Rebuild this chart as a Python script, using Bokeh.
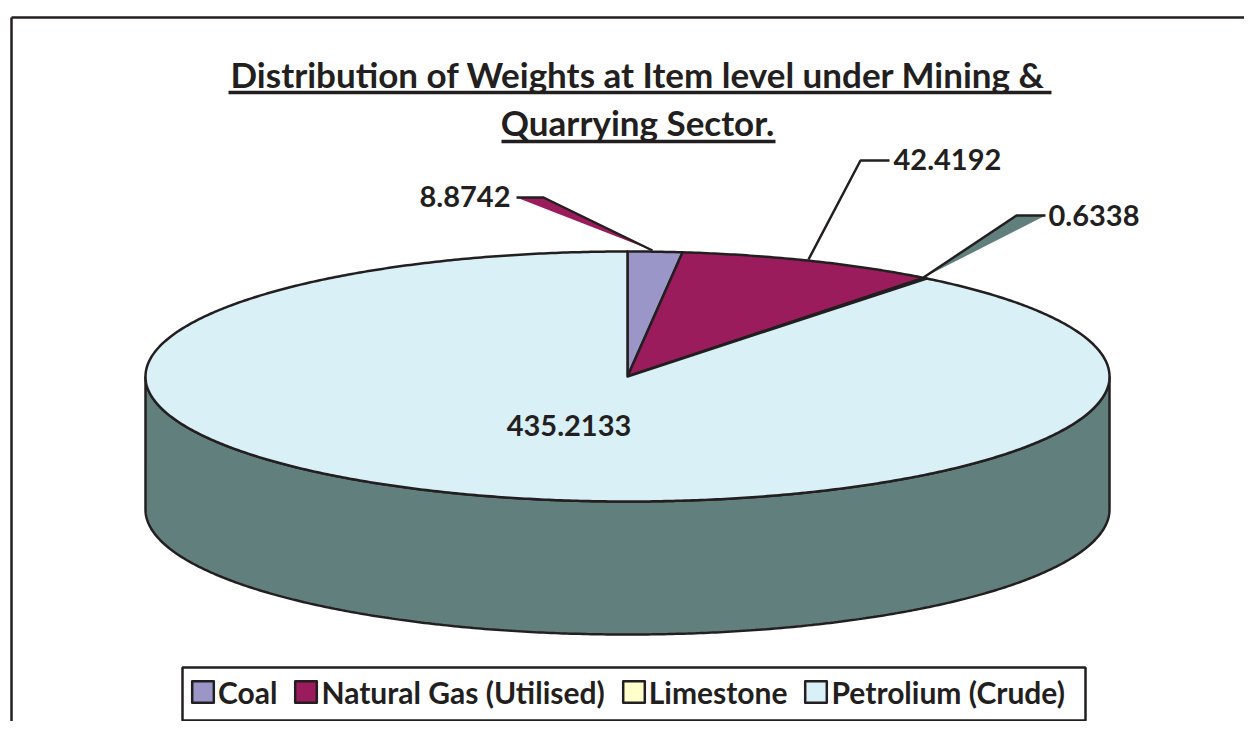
import math
from bokeh.plotting import figure
from bokeh.models import Range1d, Legend, LegendItem
from bokeh.core.properties import value
from bokeh.embed import file_html
from bokeh.resources import INLINE

categories = ["Coal", "Natural Gas (Utilised)", "Limestone", "Petrolium (Crude)"]
weights = [8.8742, 42.4192, 0.6338, 435.2133]
value_labels = ["8.8742", "42.4192", "0.6338", "435.2133"]
title_lines = ["Distribution of Weights at Item level under Mining &", "Quarrying Sector."]

COLORS = ["#9A96C8", "#9A1C5C", "#FFFFCC", "#D9F0F6"]
SIDE = "#617F7D"
INK = "#231F20"
FONT = value("Lato")

W, H = 1244, 721
p = figure(width=W, height=H, output_backend="svg", toolbar_location=None,
           x_range=Range1d(0, W), y_range=Range1d(H, 0), min_border=0)
p.axis.visible = False
p.grid.visible = False
p.outline_line_color = None
p.background_fill_color = "white"

# pie geometry in page pixels
CX, CY, A, B, DEPTH = 627, 376, 482, 125, 133
LW = 2.5


def rim(t):
    return CX + A * math.sin(t), CY - B * math.cos(t)


def arc(t0, t1):
    n = max(2, int(abs(t1 - t0) * 120))
    return [rim(t0 + (t1 - t0) * i / n) for i in range(n + 1)]


# outer frame
p.line([11, 11], [H, 17], line_color=INK, line_width=LW)
p.line([11, W], [17, 17], line_color=INK, line_width=LW)

# side wall of the pie
front = arc(math.pi / 2, 3 * math.pi / 2)
sx = [q[0] for q in front] + [q[0] for q in reversed(front)]
sy = [q[1] for q in front] + [q[1] + DEPTH for q in reversed(front)]
p.patch(sx, sy, fill_color=SIDE, line_color=INK, line_width=LW)

# slices
total = sum(weights)
start = 0.0
renderers = []
for w, c in zip(weights, COLORS):
    end = start + 2 * math.pi * w / total
    pts = arc(start, end)
    xs = [CX] + [q[0] for q in pts] + [CX]
    ys = [CY] + [q[1] for q in pts] + [CY]
    renderers.append(p.patch(xs, ys, fill_color=c, line_color=INK, line_width=LW,
                             line_join="round"))
    start = end

# leader lines
leaders = [
    ([516, 543, 652], [197, 197, 250], COLORS[1]),
    ([889, 860, 808], [160, 160, 259], None),
    ([1045, 1016, 923], [215, 215, 277], SIDE),
]
for lx, ly, fill in leaders:
    if fill:
        p.patch(lx, ly, fill_color=fill, line_color=None)
    p.line(lx, ly, line_color=INK, line_width=LW)

# value labels
label_pos = [(510, 196, "right"), (893, 159, "left"), (1048, 215, "left"), (568.5, 425, "center")]
for (x, y, al), t in zip(label_pos, value_labels):
    p.text([x], [y], text=[t], text_font=FONT, text_font_style="bold", text_font_size="29px",
           text_color=INK, text_align=al, text_baseline="middle")

# title
title_x = [637.5, 637]
title_y = [73, 121]
underline_y = [92, 141]
spans = [(228, 1051), (501, 775)]
for t, x, y, uy, (x0, x1) in zip(title_lines, title_x, title_y, underline_y, spans):
    p.text([x], [y], text=[t], text_font=FONT, text_font_style="bold", text_font_size="35px",
           text_color=INK, text_align="center", text_baseline="middle")
    p.line([x0, x1], [uy, uy], line_color=INK, line_width=3.5)

# legend box, then the legend itself
p.quad(left=[182], right=[1085], top=[667], bottom=[720], fill_color="white",
       line_color=INK, line_width=LW)
legend = Legend(items=[LegendItem(label=c, renderers=[r]) for c, r in zip(categories, renderers)],
                orientation="horizontal", location=(189, 9),
                glyph_width=27, glyph_height=27, label_standoff=2, spacing=15,
                label_height=41, padding=6, margin=0,
                label_text_font="Lato", label_text_font_style="bold",
                label_text_font_size="30px", label_text_color=INK,
                border_line_color=None,
                background_fill_alpha=0.0)
p.add_layout(legend, "center")

open("out.html", "w").write(file_html(p, INLINE))
